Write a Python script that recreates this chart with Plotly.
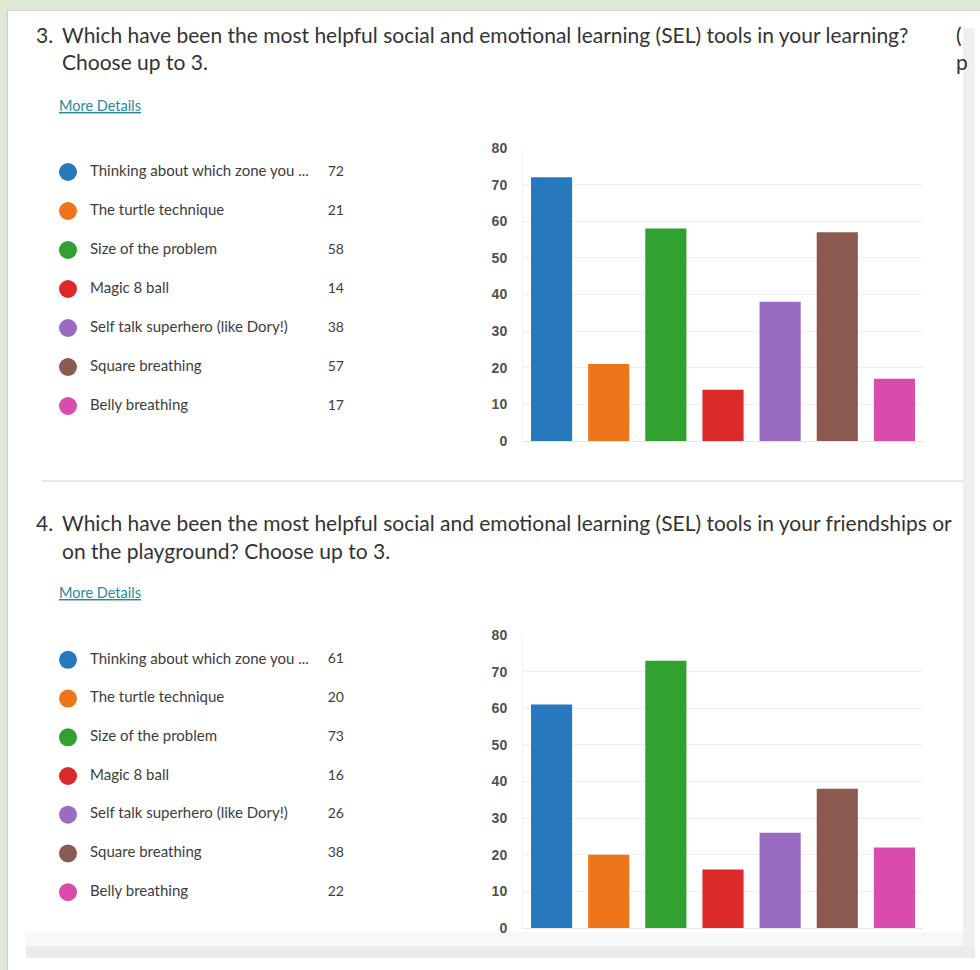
import plotly.graph_objects as go

W, H = 980, 970

# ---- data ----
categories = [
    "Thinking about which zone you ...",
    "The turtle technique",
    "Size of the problem",
    "Magic 8 ball",
    "Self talk superhero (like Dory!)",
    "Square breathing",
    "Belly breathing",
]
q3_values = [72, 21, 58, 14, 38, 57, 17]
q4_values = [61, 20, 73, 16, 26, 38, 22]
y_ticks = [0, 10, 20, 30, 40, 50, 60, 70, 80]
colors = ["#2878bd", "#ee7519", "#30a030", "#dc2a2a", "#9a6cc1", "#8c5a50", "#d94cad"]

q3_title = ["3.", "Which have been the most helpful social and emotional learning (SEL) tools in your learning?",
            "Choose up to 3."]
q4_title = ["4.", "Which have been the most helpful social and emotional learning (SEL) tools in your friendships or",
            "on the playground? Choose up to 3."]

FONT = "Lato"


def px(x):
    return x / W


def py(y):
    return 1 - y / H


fig = go.Figure()

# ---- bar charts ----
fig.add_trace(go.Bar(x=categories, y=q3_values, marker=dict(color=colors, line=dict(width=0)),
                     xaxis="x", yaxis="y", showlegend=False, hoverinfo="x+y"))
fig.add_trace(go.Bar(x=categories, y=q4_values, marker=dict(color=colors, line=dict(width=0)),
                     xaxis="x2", yaxis="y2", showlegend=False, hoverinfo="x+y"))

# ---- custom legends ----
for vals, xa, ya in [(q3_values, "x3", "y3"), (q4_values, "x3", "y4")]:
    fig.add_trace(go.Scatter(x=[68] * len(categories), y=categories, mode="markers",
                             marker=dict(size=18, color=colors, line=dict(width=0)),
                             xaxis=xa, yaxis=ya, showlegend=False, hoverinfo="skip"))
    fig.add_trace(go.Scatter(x=[90] * len(categories), y=categories, mode="text", text=categories,
                             textposition="middle right",
                             textfont=dict(family=FONT, size=15, color="#3d3d3d"),
                             xaxis=xa, yaxis=ya, showlegend=False, hoverinfo="skip", cliponaxis=False))
    fig.add_trace(go.Scatter(x=[344] * len(categories), y=categories, mode="text",
                             text=[str(v) for v in vals], textposition="middle left",
                             textfont=dict(family=FONT, size=14, color="#3d3d3d"),
                             xaxis=xa, yaxis=ya, showlegend=False, hoverinfo="skip", cliponaxis=False))

bar_x_dom = [px(523), px(923)]
common_x = dict(showticklabels=False, showgrid=False, zeroline=False, showline=True,
                linecolor="#e6e6e6", linewidth=1, ticks="", fixedrange=True, automargin=False)
common_y = dict(range=[0, 80], tickvals=y_ticks, showgrid=True, gridcolor="#eeeeee", gridwidth=1,
                zeroline=False, showline=True, linecolor="#f3f3f3", ticks="",
                ticklabelstandoff=12, automargin=False,
                tickfont=dict(family="Liberation Sans", size=14, color="#505050", weight="bold"),
                fixedrange=True)

fig.update_layout(
    width=W, height=H, autosize=False,
    margin=dict(l=0, r=0, t=0, b=0, pad=0, autoexpand=False),
    paper_bgcolor="#dfead6",
    plot_bgcolor="rgba(0,0,0,0)",
    bargap=0.28,
    xaxis=dict(domain=bar_x_dom, anchor="y", **common_x),
    yaxis=dict(domain=[py(441), py(148)], anchor="x", **common_y),
    xaxis2=dict(domain=bar_x_dom, anchor="y2", **common_x),
    yaxis2=dict(domain=[py(928), py(635)], anchor="x2", **common_y),
    xaxis3=dict(domain=[0, 1], range=[0, W], visible=False, anchor="y3", fixedrange=True, automargin=False),
    yaxis3=dict(domain=[py(425.5), py(152.5)], range=[6.5, -0.5], visible=False, anchor="x3",
                type="category", fixedrange=True, automargin=False),
    yaxis4=dict(domain=[py(911.5), py(640.5)], range=[6.5, -0.5], visible=False, anchor="x3",
                type="category", fixedrange=True, automargin=False),
)

shapes = []
# white card
shapes.append(dict(type="rect", xref="paper", yref="paper", x0=px(7), x1=px(980), y0=0, y1=py(10),
                   fillcolor="#ffffff", line=dict(width=0), layer="below"))
# card edges
shapes.append(dict(type="line", xref="paper", yref="paper", x0=px(7.5), x1=px(7.5), y0=0, y1=py(10),
                   line=dict(color="#c9cfc4", width=1), layer="below"))
shapes.append(dict(type="line", xref="paper", yref="paper", x0=px(7), x1=px(980), y0=py(10.5), y1=py(10.5),
                   line=dict(color="#d6ddd0", width=1), layer="below"))
# right scrollbar-like strip
shapes.append(dict(type="rect", xref="paper", yref="paper", x0=px(963), x1=px(975), y0=py(958), y1=py(28),
                   fillcolor="#efefef", line=dict(width=0), layer="below"))
# section divider
shapes.append(dict(type="line", xref="paper", yref="paper", x0=px(42), x1=px(963), y0=py(481), y1=py(481),
                   line=dict(color="#e8e8e8", width=2), layer="below"))
# bottom bands
shapes.append(dict(type="rect", xref="paper", yref="paper", x0=px(26), x1=px(963), y0=py(946), y1=py(932),
                   fillcolor="#f8f8f8", line=dict(width=0), layer="below"))
shapes.append(dict(type="rect", xref="paper", yref="paper", x0=px(26), x1=px(975), y0=py(958), y1=py(946),
                   fillcolor="#ebebeb", line=dict(width=0), layer="below"))
fig.update_layout(shapes=shapes)

ann = []
title_color = "#333333"


def add_title(lines, y1, y2, size):
    ann.append(dict(text=lines[0], x=px(34), y=py(y1), xref="paper", yref="paper", xanchor="left",
                    yanchor="middle", showarrow=False, font=dict(family=FONT, size=size, color=title_color)))
    ann.append(dict(text=lines[1], x=px(60), y=py(y1), xref="paper", yref="paper", xanchor="left",
                    yanchor="middle", showarrow=False, font=dict(family=FONT, size=size, color=title_color)))
    ann.append(dict(text=lines[2], x=px(60), y=py(y2), xref="paper", yref="paper", xanchor="left",
                    yanchor="middle", showarrow=False, font=dict(family=FONT, size=size, color=title_color)))


add_title(q3_title, 35, 61, 21)
add_title(q4_title, 522, 550, 21)

for yy in [105, 592]:
    ann.append(dict(text="<u>More Details</u>", x=px(57), y=py(yy), xref="paper", yref="paper",
                    xanchor="left", yanchor="middle", showarrow=False,
                    font=dict(family=FONT, size=14.5, color="#2b8a99")))

# clipped text at the right edge of the screenshot
ann.append(dict(text="(", x=px(954), y=py(35), xref="paper", yref="paper", xanchor="left", yanchor="middle",
                showarrow=False, font=dict(family=FONT, size=21, color=title_color)))
ann.append(dict(text="p", x=px(954), y=py(61), xref="paper", yref="paper", xanchor="left", yanchor="middle",
                showarrow=False, font=dict(family=FONT, size=21, color=title_color)))
fig.update_layout(annotations=ann)

fig.write_html("out.html", config={"displayModeBar": False})
